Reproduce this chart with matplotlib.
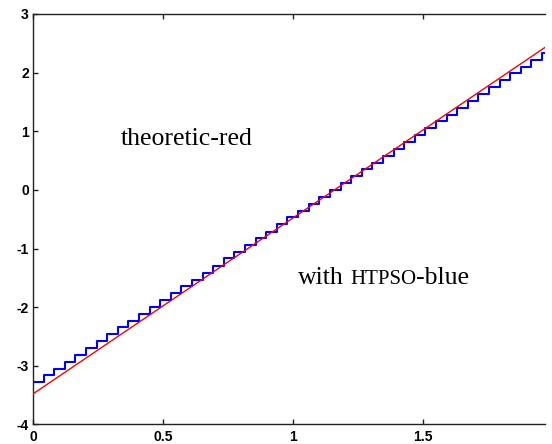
import numpy as np
import matplotlib
matplotlib.use("Agg")
import matplotlib.pyplot as plt

# Theoretic response (straight line) end points
theory_x = [0.0, 1.97]
theory_y = [-3.48, 2.43]

# Piecewise-constant HTPSO output, one level per sample period
sample_period = 0.0408
htpso_levels = [
    -3.28, -3.16, -3.05, -2.93, -2.81, -2.70, -2.58, -2.46, -2.34, -2.23,
    -2.11, -1.99, -1.88, -1.76, -1.64, -1.53, -1.41, -1.29, -1.17, -1.06,
    -0.94, -0.82, -0.71, -0.59, -0.47, -0.36, -0.24, -0.12, 0.00, 0.11,
    0.23, 0.35, 0.46, 0.58, 0.70, 0.82, 0.93, 1.05, 1.17, 1.28,
    1.40, 1.52, 1.63, 1.75, 1.87, 1.99, 2.10, 2.22, 2.34,
]

x_ticks = [0, 0.5, 1, 1.5]
x_tick_labels = ["0", "0.5", "1", "1.5"]
y_ticks = [-4, -3, -2, -1, 0, 1, 2, 3]
y_tick_labels = ["-4", "-3", "-2", "-1", "0", "1", "2", "3"]

plt.rcParams["axes.unicode_minus"] = False

W, H = 552, 444
fig = plt.figure(figsize=(W / 100, H / 100), dpi=100)
left, right, top, bottom = 33, 545, 14, 424.4
ax = fig.add_axes([left / W, (H - bottom) / H, (right - left) / W, (bottom - top) / H])

# staircase: each level holds until the next sample
t = np.arange(len(htpso_levels) + 1) * sample_period
levels = htpso_levels + [htpso_levels[-1]]
ax.step(t, levels, where="post", color="#0000ff", lw=1.5, zorder=2)
ax.plot(theory_x, theory_y, color="#ff0000", lw=1.0, zorder=3)

ax.set_xlim(0, 1.97)
ax.set_ylim(-4, 3)
ax.set_xticks(x_ticks)
ax.set_xticklabels(x_tick_labels)
ax.set_yticks(y_ticks)
ax.set_yticklabels(y_tick_labels)

for side in ("left", "top", "bottom"):
    ax.spines[side].set_linewidth(1.0)
    ax.spines[side].set_color("#222222")
ax.spines["right"].set_visible(False)

ax.tick_params(direction="in", length=3.5, width=1.0, color="#222222",
               top=True, bottom=True, left=True, right=False)
ax.tick_params(axis="x", pad=4)
ax.tick_params(axis="y", pad=3)
for lab in ax.get_xticklabels() + ax.get_yticklabels():
    lab.set_fontfamily("Liberation Sans")
    lab.set_fontweight("bold")
    lab.set_fontsize(10)

serif = "Liberation Serif"
ax.text(0.337, 0.765, "theoretic-red", family=serif, fontsize=18.5,
        ha="left", va="baseline", color="black")

t1 = ax.text(1.02, -1.61, "with", family=serif, fontsize=18.5,
             ha="left", va="baseline", color="black")
t2 = ax.annotate("HTPSO", xy=(1, -1.61), xycoords=(t1, "data"),
                 xytext=(4.6, 0), textcoords="offset points",
                 family=serif, fontsize=15, ha="left", va="baseline",
                 color="black")
ax.annotate("-blue", xy=(1, -1.61), xycoords=(t2, "data"),
            xytext=(0, 0), textcoords="offset points",
            family=serif, fontsize=18.5, ha="left", va="baseline",
            color="black")

fig.savefig("out.png", dpi=100)
